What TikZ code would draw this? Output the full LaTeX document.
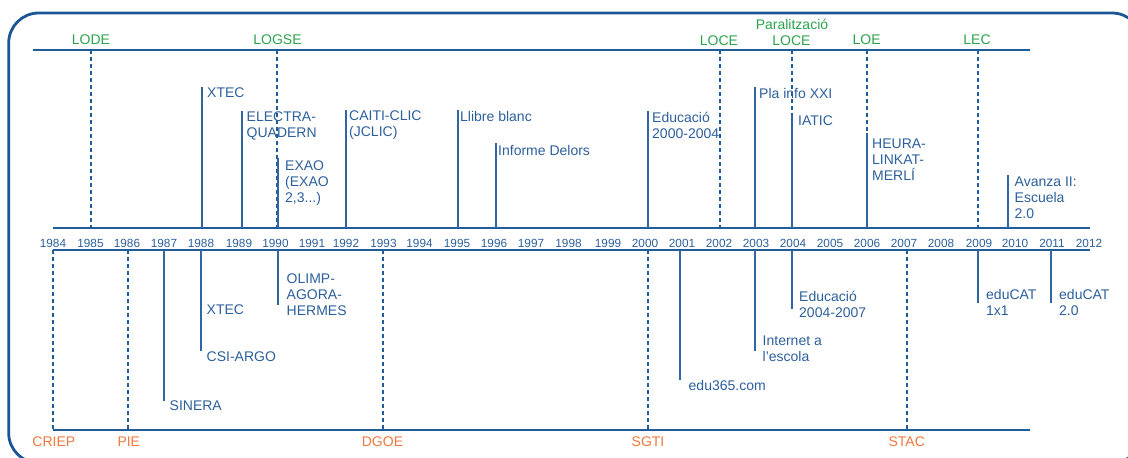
\documentclass[tikz,border=0pt]{standalone}
\usepackage{fontspec}
\setmainfont{Liberation Sans}
\definecolor{framecol}{HTML}{1A5596}
\definecolor{axiscol}{HTML}{1F5C9C}
\definecolor{evcol}{HTML}{2F66A3}
\definecolor{txtcol}{HTML}{2C5F9B}
\definecolor{lawcol}{HTML}{2BA24C}
\definecolor{unitcol}{HTML}{F0783C}
\begin{document}
\begin{tikzpicture}[x=1pt,y=-1pt,
  frame/.style={draw=framecol, line width=2.8pt, rounded corners=30pt},
  axis/.style={draw=axiscol, line width=1.5pt},
  ev/.style={draw=evcol, line width=1.4pt},
  era/.style={draw=axiscol, line width=1.4pt, dash pattern=on 4pt off 3pt},
  lbl/.style={anchor=north west, inner sep=0pt, align=left, text=txtcol,
    font=\fontsize{14}{16}\selectfont},
  yearlbl/.style={inner sep=0pt, text=txtcol, font=\fontsize{11.8}{13}\selectfont},
  law/.style={anchor=base, inner sep=0pt, text=lawcol, font=\fontsize{14}{16}\selectfont},
  unit/.style={anchor=base, inner sep=0pt, text=unitcol, font=\fontsize{14}{16}\selectfont}
]
\useasboundingbox (0,0) rectangle (1128,458);
\clip (0,0) rectangle (1128,458);

% outer rounded frame
\draw[frame] (8.7,13) rectangle (1142,463);

% the four horizontal rails
\coordinate (lawL) at (33,50);    \coordinate (lawR) at (1030,50);
\coordinate (upL) at (53,228);    \coordinate (upR) at (1090,228);
\coordinate (loL) at (53,250);    \coordinate (loR) at (1090,250);
\coordinate (unL) at (53,430);    \coordinate (unR) at (1030,430);
\draw[axis] (lawL) -- (lawR);
\draw[axis] (upL) -- (upR);
\draw[axis] (loL) -- (loR);
\draw[axis] (unL) -- (unR);

% years
\foreach \yr/\xx in {1984/53,1985/90.5,1986/127,1987/164,1988/201,1989/239,
  1990/275.5,1991/312,1992/346,1993/383.5,1994/419.5,1995/457,1996/494,
  1997/531,1998/568.5,1999/608,2000/645,2001/682,2002/719,2003/756,
  2004/793,2005/830,2006/867,2007/904,2008/941,2009/979,2010/1015,
  2011/1052,2012/1089}
  \node[yearlbl] (y\yr) at (\xx,243.8) {\yr};

% laws (green) with dashed markers down to the upper rail
\foreach \nm/\xx in {lode/91,logse/277,loce/720,paral/792,loe/867,lec/978}{
  \coordinate (\nm t) at (\xx,50);
  \coordinate (\nm b) at (\xx,228);
  \draw[era] (\nm t) -- (\nm b);
}
\node[law] (lLODE) at (91,44.5) {LODE};
\node[law] (lLOGSE) at (277.5,44.5) {LOGSE};
\node[law] (lLOCE) at (719,45) {LOCE};
\node[law] (lPar) at (792,29.5) {Paralització};
\node[law] (lLOCE2) at (791.5,45) {LOCE};
\node[law] (lLOE) at (866.7,44.8) {LOE};
\node[law] (lLEC) at (977,44.8) {LEC};

% units (orange) with dashed markers up to the lower rail
\foreach \nm/\xx in {criep/53,pie/128,dgoe/383,sgti/648,stac/907}{
  \coordinate (\nm t) at (\xx,250);
  \coordinate (\nm b) at (\xx,430);
  \draw[era] (\nm t) -- (\nm b);
}
\node[unit] (uCRIEP) at (53.8,446.7) {CRIEP};
\node[unit] (uPIE) at (128.8,446.7) {PIE};
\node[unit] (uDGOE) at (382.5,446.7) {DGOE};
\node[unit] (uSGTI) at (648,446.7) {SGTI};
\node[unit] (uSTAC) at (906.7,446.7) {STAC};

% events above the time axis
\coordinate (a1) at (202,228);   \coordinate (a1e) at (202,87);
\node[lbl] (t1) at (207,88) {XTEC};
\coordinate (a2) at (242,228);   \coordinate (a2e) at (242,111);
\node[lbl] (t2) at (246.5,111.5) {ELECTRA-\\QUADERN};
\coordinate (a3) at (278,228);   \coordinate (a3e) at (278,158);
\node[lbl] (t3) at (285,161) {EXAO\\(EXAO\\2,3...)};
\coordinate (a4) at (346,228);   \coordinate (a4e) at (346,110);
\node[lbl] (t4) at (349,111) {CAITI-CLIC\\(JCLIC)};
\coordinate (a5) at (458,228);   \coordinate (a5e) at (458,110);
\node[lbl] (t5) at (460,111) {Llibre blanc};
\coordinate (a6) at (496,228);   \coordinate (a6e) at (496,143);
\node[lbl] (t6) at (498,145) {Informe Delors};
\coordinate (a7) at (648,228);   \coordinate (a7e) at (648,111);
\node[lbl] (t7) at (652,111.5) {Educació\\2000-2004};
\coordinate (a8) at (755,228);   \coordinate (a8e) at (755,87);
\node[lbl] (t8) at (759,88) {Pla info XXI};
\coordinate (a9) at (792,228);   \coordinate (a9e) at (792,115);
\node[lbl] (t9) at (798,115.5) {IATIC};
\coordinate (a10) at (867,228);  \coordinate (a10e) at (867,133);
\node[lbl] (t10) at (872,139) {HEURA-\\LINKAT-\\MERLÍ};
\coordinate (a11) at (1008,228); \coordinate (a11e) at (1008,175);
\node[lbl] (t11) at (1014.5,176.5) {Avanza II:\\Escuela\\2.0};
\foreach \i in {1,...,11} \draw[ev] (a\i) -- (a\i e);

% events below the time axis
\coordinate (b1) at (164,250);   \coordinate (b1e) at (164,401);
\node[lbl] (s1) at (169.5,401) {SINERA};
\coordinate (b2) at (201,250);   \coordinate (b2e) at (201,351);
\node[lbl] (s2) at (206.5,305) {XTEC};
\node[lbl] (s2b) at (206.5,351.7) {CSI-ARGO};
\coordinate (b3) at (278,250);   \coordinate (b3e) at (278,305);
\node[lbl] (s3) at (286.5,274) {OLIMP-\\AGORA-\\HERMES};
\coordinate (b4) at (680,250);   \coordinate (b4e) at (680,380);
\node[lbl] (s4) at (688.5,380.5) {edu365.com};
\coordinate (b5) at (755,250);   \coordinate (b5e) at (755,351);
\node[lbl] (s5) at (762.5,336) {Internet a\\l’escola};
\coordinate (b6) at (792,250);   \coordinate (b6e) at (792,309);
\node[lbl] (s6) at (799,290.7) {Educació\\2004-2007};
\coordinate (b7) at (978,250);   \coordinate (b7e) at (978,303);
\node[lbl] (s7) at (986,289) {eduCAT\\1x1};
\coordinate (b8) at (1051,250);  \coordinate (b8e) at (1051,303);
\node[lbl] (s8) at (1059,289) {eduCAT\\2.0};
\foreach \i in {1,...,8} \draw[ev] (b\i) -- (b\i e);
\end{tikzpicture}
\end{document}
